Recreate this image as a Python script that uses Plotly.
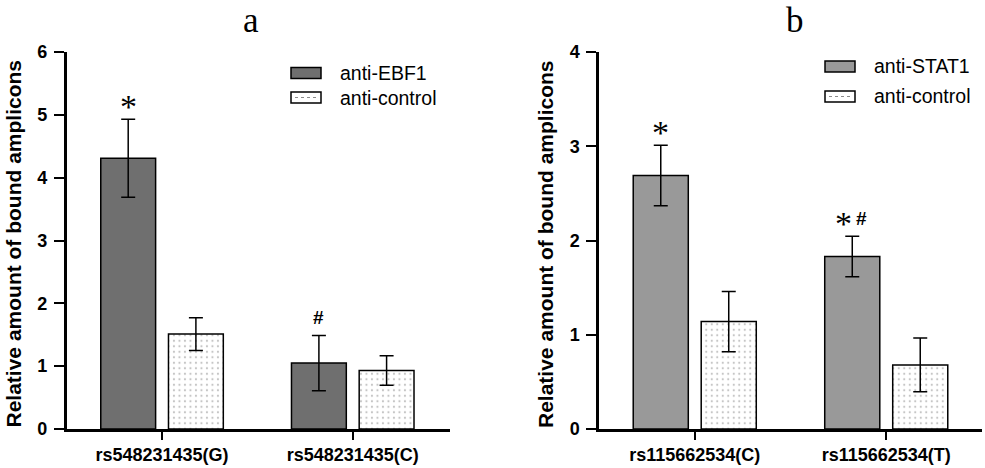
import plotly.graph_objects as go

# ---- data ----
cats_a = ["rs548231435(G)", "rs548231435(C)"]
ebf1_vals = [4.31, 1.05]
ebf1_err = [0.62, 0.44]
ctrl_a_vals = [1.51, 0.93]
ctrl_a_err = [0.26, 0.235]

cats_b = ["rs115662534(C)", "rs115662534(T)"]
stat1_vals = [2.69, 1.83]
stat1_err = [0.32, 0.215]
ctrl_b_vals = [1.14, 0.68]
ctrl_b_err = [0.32, 0.285]

yticks_a = [0, 1, 2, 3, 4, 5, 6]
yticks_b = [0, 1, 2, 3, 4]

legend_a = ["anti-EBF1", "anti-control"]
legend_b = ["anti-STAT1", "anti-control"]
panel_labels = ["a", "b"]

# significance marks: (category index, series index, text)
marks_a = [(0, 0, "*"), (1, 0, "#")]
marks_b = [(0, 0, "*"), (1, 0, "*#")]

SANS = "Liberation Sans"
SERIF = "Liberation Serif"
EBF1_COLOR = "#6f6f6f"
STAT1_COLOR = "#999999"

fig = go.Figure()

xpos = [0, 1]
dot_pattern = dict(shape=".", size=5.5, solidity=0.12, fgcolor="#8a8a8a", bgcolor="white")


def add_bar(name, vals, errs, color, xa, ya, pattern=None):
    marker = dict(color=color, line=dict(color="black", width=1.5))
    if pattern:
        marker["pattern"] = pattern
    fig.add_trace(go.Bar(
        x=xpos, y=vals, name=name, marker=marker,
        error_y=dict(type="data", array=errs, visible=True, color="black",
                     thickness=1.5, width=7),
        xaxis=xa, yaxis=ya, showlegend=False,
    ))


add_bar(legend_a[0], ebf1_vals, ebf1_err, EBF1_COLOR, "x", "y")
add_bar(legend_a[1], ctrl_a_vals, ctrl_a_err, "white", "x", "y", dot_pattern)
add_bar(legend_b[0], stat1_vals, stat1_err, STAT1_COLOR, "x2", "y2")
add_bar(legend_b[1], ctrl_b_vals, ctrl_b_err, "white", "x2", "y2", dot_pattern)

axis_common = dict(showline=True, linecolor="black", linewidth=2.5, ticks="outside",
                   tickwidth=2, tickcolor="black", showgrid=False, zeroline=False,
                   automargin=False,
                   tickfont=dict(family=SANS, size=18, color="black", weight="bold"))

W, H = 985, 468
dom_y = [39 / H, 416 / H]
fig.update_layout(
    width=W, height=H,
    margin=dict(l=0, r=0, t=0, b=0),
    paper_bgcolor="white", plot_bgcolor="white",
    barmode="group", bargap=0.29, bargroupgap=0.19,
    xaxis=dict(domain=[66.7 / W, 450 / W], range=[-0.5, 1.51], tickvals=xpos,
               ticktext=cats_a, ticklen=8, anchor="y", **axis_common),
    yaxis=dict(domain=dom_y, range=[0, 6], tickvals=yticks_a, ticklen=10,
               ticklabelstandoff=3, anchor="x", **axis_common),
    xaxis2=dict(domain=[599 / W, 982 / W], range=[-0.5, 1.5], tickvals=xpos,
                ticktext=cats_b, ticklen=8, anchor="y2", **axis_common),
    yaxis2=dict(domain=dom_y, range=[0, 4], tickvals=yticks_b, ticklen=10,
                ticklabelstandoff=3, anchor="x2", **axis_common),
    showlegend=False,
)

annotations = []
shapes = []
# panel letters
for lab, xc in zip(panel_labels, (251, 795)):
    annotations.append(dict(text=lab, x=xc / W, y=1, xref="paper", yref="paper",
                            xanchor="center", yanchor="top", showarrow=False, borderpad=0,
                            font=dict(family=SERIF, size=35, color="black")))
# y-axis titles
for xc in (12.5, 545):
    annotations.append(dict(text="Relative amount of bound amplicons", x=xc / W, y=1 - 244 / H,
                            xref="paper", yref="paper", xanchor="center", yanchor="middle",
                            textangle=-90, showarrow=False,
                            font=dict(family=SANS, size=21, color="black", weight="bold")))


# legends (swatch + label), drawn in paper coordinates
def add_legend(labels, fill, x0, rows):
    for k, (label, yc) in enumerate(zip(labels, rows)):
        y0p, y1p = 1 - (yc + 5.5) / H, 1 - (yc - 5.5) / H
        shapes.append(dict(type="rect", xref="paper", yref="paper",
                           x0=x0 / W, x1=(x0 + 30) / W, y0=y0p, y1=y1p,
                           fillcolor=fill if k == 0 else "white",
                           line=dict(color="black", width=1.5)))
        if k == 1:
            shapes.append(dict(type="line", xref="paper", yref="paper",
                               x0=(x0 + 4) / W, x1=(x0 + 27) / W,
                               y0=1 - yc / H, y1=1 - yc / H,
                               line=dict(color="#8a8a8a", width=1.2, dash="dot")))
        annotations.append(dict(text=label, x=(x0 + 47) / W, y=1 - yc / H,
                                xref="paper", yref="paper", xanchor="left", yanchor="middle",
                                showarrow=False,
                                font=dict(family=SANS, size=19.5, color="black")))


add_legend(legend_a, EBF1_COLOR, 291, [73, 97.5])
add_legend(legend_b, STAT1_COLOR, 825, [66.5, 96.5])

OFFSETS = [-0.177, 0.177]


def add_marks(marks, vals_list, errs_list, xref, yref):
    for ci, si, txt in marks:
        top = vals_list[si][ci] + errs_list[si][ci]
        xc = ci + OFFSETS[si]
        parts = list(txt)
        n = len(parts)
        for k, ch in enumerate(parts):
            xs = (k - (n - 1) / 2) * 18
            if ch == "*":
                annotations.append(dict(text="*", x=xc, y=top, xref=xref, yref=yref,
                                        xanchor="center", yanchor="bottom", showarrow=False,
                                        xshift=xs, yshift=-8,
                                        font=dict(family=SERIF, size=34, color="black")))
            else:
                annotations.append(dict(text="#", x=xc, y=top, xref=xref, yref=yref,
                                        xanchor="center", yanchor="bottom", showarrow=False,
                                        xshift=xs, yshift=5,
                                        font=dict(family=SANS, size=19, color="black",
                                                  weight="bold")))


add_marks(marks_a, [ebf1_vals, ctrl_a_vals], [ebf1_err, ctrl_a_err], "x", "y")
add_marks(marks_b, [stat1_vals, ctrl_b_vals], [stat1_err, ctrl_b_err], "x2", "y2")

fig.update_layout(annotations=annotations, shapes=shapes)

fig.write_html("out.html")
